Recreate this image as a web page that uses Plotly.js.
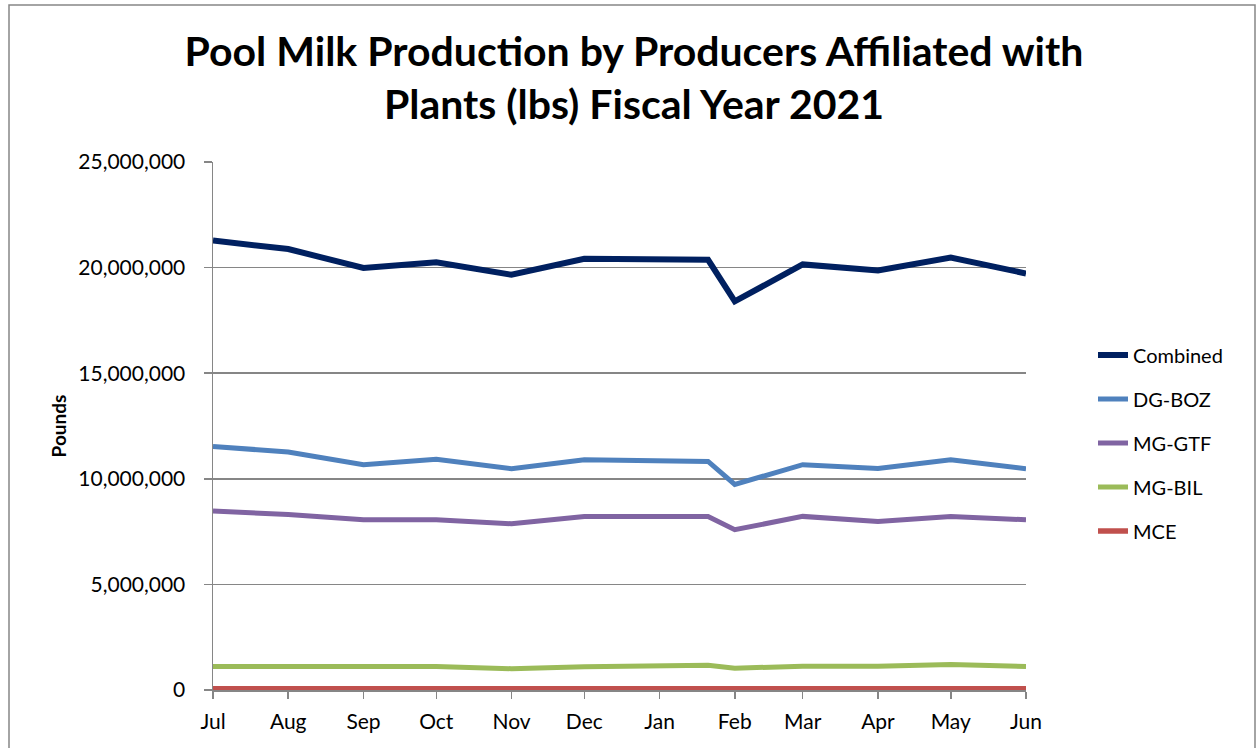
<!DOCTYPE html>
<html>
<head>
<meta charset="utf-8">
<script src="https://cdn.plot.ly/plotly-3.0.1.min.js"></script>
<style>
  html, body { margin: 0; padding: 0; background: #fff; }
  #chart { width: 1259px; height: 748px; }
</style>
</head>
<body>
<div id="chart"></div>
<script>
// Data (Fiscal Year 2021, July 2020 - June 2021)
const monthLabels = ["Jul", "Aug", "Sep", "Oct", "Nov", "Dec", "Jan", "Feb", "Mar", "Apr", "May", "Jun"];
const monthTicks = ["2020-07-01", "2020-08-01", "2020-09-01", "2020-10-01", "2020-11-01", "2020-12-01",
                    "2021-01-01", "2021-02-01", "2021-03-01", "2021-04-01", "2021-05-01", "2021-06-01"];
// dates of the data points (January's value sits later in the month in the source)
const pointDates = ["2020-07-01", "2020-08-01", "2020-09-01", "2020-10-01", "2020-11-01", "2020-12-01",
                    "2021-01-21", "2021-02-01", "2021-03-01", "2021-04-01", "2021-05-01", "2021-06-01"];

const combined = [21280000, 20880000, 19980000, 20250000, 19660000, 20420000,
                  20370000, 18400000, 20150000, 19860000, 20480000, 19720000];
const dgBoz    = [11530000, 11270000, 10670000, 10920000, 10480000, 10900000,
                  10820000,  9730000, 10670000, 10490000, 10900000, 10480000];
const mgGtf    = [ 8470000,  8310000,  8060000,  8060000,  7870000,  8220000,
                   8220000,  7590000,  8220000,  7980000,  8220000,  8060000];
const mgBil    = [ 1110000,  1110000,  1110000,  1110000,  1010000,  1100000,
                   1170000,  1030000,  1130000,  1130000,  1210000,  1110000];
const mce      = [   60000,    60000,    60000,    60000,    60000,    60000,
                      5000,    60000,    60000,    60000,    60000,    60000];

const seriesNames = ["Combined", "DG-BOZ", "MG-GTF", "MG-BIL", "MCE"];
const seriesValues = [combined, dgBoz, mgGtf, mgBil, mce];
const seriesColors = ["#002060", "#4F81BD", "#8064A2", "#9BBB59", "#C0504D"];
const seriesWidths = [6, 5, 5, 5, 5.5];

const FONT = "Lato, 'Open Sans', sans-serif";

const traces = seriesNames.map((name, i) => ({
  type: "scatter",
  mode: "lines",
  name: name,
  legendgroup: name,
  x: pointDates,
  y: seriesValues[i],
  line: { color: seriesColors[i], width: seriesWidths[i] },
  hoverinfo: "x+y+name"
}));

// plot area geometry (px)
const W = 1259, H = 748;
const L = 213, R = 233, T = 162, B = 58;
const pw = W - L - R, ph = H - T - B;

const layout = {
  width: W,
  height: H,
  margin: { l: L, r: R, t: T, b: B, pad: 0 },
  paper_bgcolor: "#ffffff",
  plot_bgcolor: "#ffffff",
  font: { family: FONT, color: "#000000", size: 20 },
  title: {
    text: "<b>Pool Milk Production by Producers Affiliated with<br>Plants (lbs) Fiscal Year 2021</b>",
    font: { family: FONT, size: 41, color: "#000000" },
    x: 634 / W,
    xanchor: "center",
    xref: "container",
    y: 1 - 66 / H,
    yanchor: "top",
    yref: "container"
  },
  xaxis: {
    type: "date",
    range: [monthTicks[0], monthTicks[monthTicks.length - 1]],
    tickmode: "array",
    tickvals: monthTicks,
    ticktext: monthLabels,
    ticks: "outside",
    ticklen: 7,
    tickcolor: "#868686",
    tickwidth: 1.5,
    showline: true,
    linecolor: "#868686",
    linewidth: 1.5,
    showgrid: false,
    zeroline: false,
    tickfont: { family: FONT, size: 21, color: "#000000" },
    ticklabelstandoff: 5,
    fixedrange: true
  },
  yaxis: {
    range: [0, 25000000],
    tickmode: "linear",
    tick0: 0,
    dtick: 5000000,
    tickformat: ",d",
    ticks: "outside",
    ticklen: 8,
    tickcolor: "#868686",
    tickwidth: 1.5,
    showline: true,
    linecolor: "#868686",
    linewidth: 1.5,
    showgrid: true,
    gridcolor: "#868686",
    gridwidth: 1.5,
    zeroline: false,
    tickfont: { family: FONT, size: 21, color: "#000000" },
    ticklabelstandoff: 14,
    title: {
      text: "<b>Pounds</b>",
      font: { family: FONT, size: 19, color: "#000000" },
      standoff: 6
    },
    fixedrange: true
  },
  showlegend: true,
  legend: {
    x: (1093 - L) / pw,
    xanchor: "left",
    y: (H - B - 443) / ph,
    yanchor: "middle",
    font: { family: FONT, size: 20, color: "#000000" },
    tracegroupgap: 15,
    bgcolor: "rgba(0,0,0,0)",
    borderwidth: 0
  },
  shapes: [{
    type: "rect",
    xref: "paper", yref: "paper",
    x0: (9 - L) / pw, x1: (1255 - L) / pw,
    y0: -(B + 20) / ph, y1: 1 + (T - 5) / ph,
    line: { color: "#868686", width: 1.5 },
    fillcolor: "rgba(0,0,0,0)",
    layer: "below"
  }]
};

Plotly.newPlot("chart", traces, layout, { displayModeBar: false, staticPlot: true });
</script>
</body>
</html>
